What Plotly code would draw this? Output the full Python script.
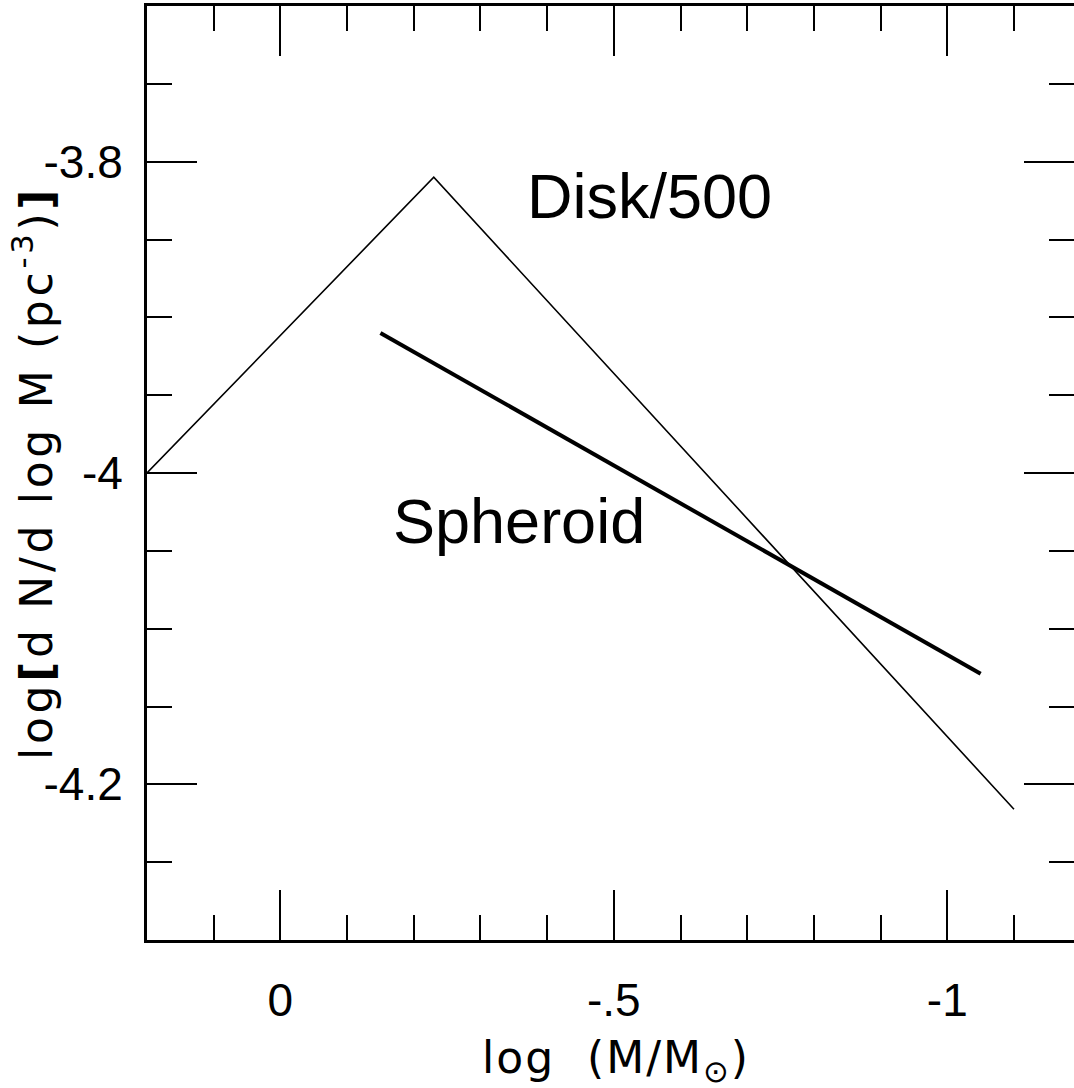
import plotly.graph_objects as go

# Mass function curves: log(M/Msun) vs log[dN/dlogM (pc^-3)]
disk_logm = [0.2, -0.23, -1.1]
disk_logn = [-4.0, -3.81, -4.216]

spheroid_logm = [-0.15, -1.05]
spheroid_logn = [-3.91, -4.129]

x_tickvals = [0, -0.5, -1]
x_ticktext = ["0", "-.5", "-1"]
y_tickvals = [-3.8, -4.0, -4.2]
y_ticktext = ["-3.8", "-4", "-4.2"]

x_range = [0.2, -1.19]
y_range = [-4.3, -3.7]

TICK_FONT = dict(family="Liberation Sans, Arial, sans-serif", size=46, color="black")
TITLE_FONT = dict(family="DejaVu Sans, sans-serif", size=44, color="black")
LABEL_FONT = dict(family="Liberation Sans, Arial, sans-serif", size=63, color="black")

fig = go.Figure()
fig.add_trace(go.Scatter(x=disk_logm, y=disk_logn, mode="lines",
                         line=dict(color="black", width=1.6),
                         hoverinfo="skip", showlegend=False))
fig.add_trace(go.Scatter(x=spheroid_logm, y=spheroid_logn, mode="lines",
                         line=dict(color="black", width=4),
                         hoverinfo="skip", showlegend=False))
# empty trace that carries the top/right tick axes
fig.add_trace(go.Scatter(x=[], y=[], xaxis="x2", yaxis="y2",
                         hoverinfo="skip", showlegend=False))


def tick_style(minor_dtick, minor_tick0):
    return dict(
        ticks="inside", ticklen=50, tickwidth=2, tickcolor="black",
        minor=dict(ticks="inside", ticklen=25, tickwidth=2, tickcolor="black",
                   tickmode="linear", tick0=minor_tick0, dtick=minor_dtick,
                   showgrid=False),
        showgrid=False, zeroline=False, fixedrange=True,
    )


fig.update_layout(
    width=1074, height=1088,
    margin=dict(l=147, r=0, t=6, b=148),
    paper_bgcolor="white", plot_bgcolor="white",
    showlegend=False,
    xaxis=dict(range=x_range, tickmode="array", tickvals=x_tickvals, ticktext=x_ticktext,
               showline=True, linewidth=3, linecolor="black", side="bottom",
               tickfont=TICK_FONT, ticklabelstandoff=18,
               **tick_style(0.1, 0)),
    yaxis=dict(range=y_range, tickmode="array", tickvals=y_tickvals, ticktext=y_ticktext,
               showline=True, linewidth=3, linecolor="black", side="left",
               tickfont=TICK_FONT, ticklabelstandoff=12,
               **tick_style(0.05, -4.0)),
    xaxis2=dict(range=x_range, overlaying="x", side="top", anchor="y2",
                tickmode="array", tickvals=x_tickvals, showticklabels=False,
                showline=True, linewidth=3, linecolor="black",
                **tick_style(0.1, 0)),
    yaxis2=dict(range=y_range, overlaying="y", side="right", anchor="x2",
                tickmode="array", tickvals=y_tickvals, showticklabels=False,
                showline=False,
                **tick_style(0.05, -4.0)),
)

fig.add_annotation(text="Disk/500", x=-0.554, y=-3.822, xref="x", yref="y",
                   showarrow=False, font=LABEL_FONT, xanchor="center", yanchor="middle")
fig.add_annotation(text="Spheroid", x=-0.358, y=-4.031, xref="x", yref="y",
                   showarrow=False, font=LABEL_FONT, xanchor="center", yanchor="middle")

fig.add_annotation(text="log&nbsp;&nbsp;(M/M<sub>⊙</sub>)", x=0.5054, y=-0.129,
                   xref="paper", yref="paper", showarrow=False, font=TITLE_FONT,
                   xanchor="center", yanchor="middle", name="xtitle")
fig.add_annotation(text="log<b>[</b>d N/d log M (pc<sup>-3</sup>)<b>]</b>",
                   x=-0.1236, y=0.5, xref="paper", yref="paper", showarrow=False,
                   font=TITLE_FONT, textangle=-90, xanchor="center", yanchor="middle",
                   name="ytitle")

# wider tracking on the axis titles
tracking_js = """
var anns = document.querySelectorAll('g.annotation text.annotation-text');
if (anns.length >= 4) {
  anns[2].style.letterSpacing = '2px';
  anns[3].style.letterSpacing = '3.7px';
}
"""

fig.write_html("out.html", config=dict(displayModeBar=False), post_script=tracking_js)
